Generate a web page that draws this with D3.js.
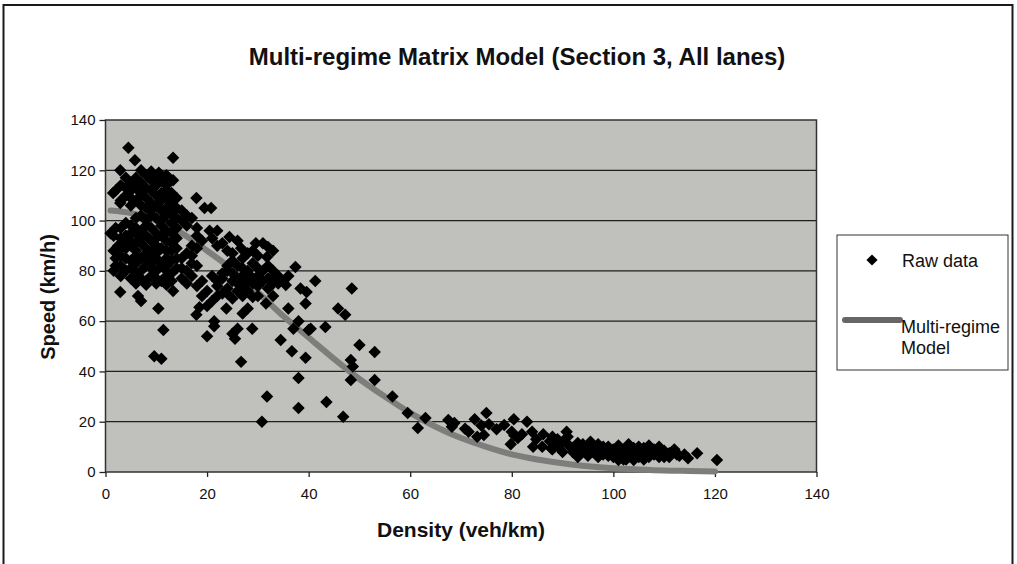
<!DOCTYPE html>
<html><head><meta charset="utf-8">
<script src="https://cdn.jsdelivr.net/npm/d3@7"></script>
<style>
body{margin:0;background:#fff;}
svg{display:block;font-family:Arial,"Liberation Sans",sans-serif;}
</style>
</head><body>
<svg id="chart" width="1017" height="564"></svg>
<script>
const chartTitle = "Multi-regime Matrix Model (Section 3, All lanes)";
const xTitle = "Density (veh/km)";
const yTitle = "Speed (km/h)";
const xTicks = [0,20,40,60,80,100,120,140];
const yTicks = [0,20,40,60,80,100,120,140];
const legendRaw = "Raw data";
const legendModel = ["Multi-regime", "Model"];

const modelDensity = [1,5,10,15,20,25,30,35,40,45,50,55,60,65,70,75,80,85,90,95,100,105,110,115,120];
const modelSpeed   = [104,103,100,95,88,80.5,71.5,62,53.5,45,37,30,23.5,18,13.5,10,7,5,3.5,2.3,1.5,1,0.6,0.4,0.2];

const rawPoints = [
 [4.5,129],[13.3,125],[5.8,124],[2.9,120],
 [4,117],[5,115],[6,117],[7,115],[8,118],[9,116],[10,117],[11,116],[12,114],[13.3,116],[7,120],[9,119.5],[10.5,119],[12,118],
 [2,112],[3,114],[4,113],[5,112],[6,113],[7,111],[8,113],[9,112],[10,114],[11,111],[12,112],[13,111],
 [1.5,111],[3,108],[4,110],[5,109],[6,108],[7,110],[8,109],[9,107],[10,110],[11,108],[12,109],[13,107],[14,109],[17.9,109],[14,105],
 [2.9,107],[5,106],[7,106],[8,105],[9,104],[10,106],[11,104],[12,105],[13,103],[15,104],[16,102],[19.5,105],[20.8,105],
 [6,101],[7,102],[8,100],[9,102],[10,101],[11,100],[12,102],[13,99],[14,101],[15,100],[16,98],[17,101],[18,97],[4,99],
 [1,95],[2,97],[3,97],[5,98],[6,97],[7,96],[8,98],[9,97],[10,95],[11,98],[12,96],[13,95],[14,97],[18,94],[20.5,96],[22,96],[21,93],[5,95],
 [1.6,94],[3,93],[4,94],[5,92],[6,95],[7,93],[8,94],[9,92],[10,93],[11,94],[12,92],[13,91],[17,90],[19,92],[24.4,93.5],[23,91],[26,92],[29.6,91],[14,93],[4,91],[6,91],
 [1.6,88],[2.5,90],[4,89],[5,90],[6,88],[7,91],[8,89],[9,88],[10,90],[11,89],[12,88],[14,89],[16,87],[18,89],[22,90],[24,88],[26.7,89],[28,87],[32,89.5],[31.8,85.5],[3,89],[13,88],[8,87],[10,87],
 [2,85],[3,86],[5,84],[6,86],[7,85],[8,84],[9,86],[10,85],[11,83],[12,85],[13,84],[15,85],[17,83],[25,84],[27,85],[29,83],[30,86],[4,85],[14,85],[17,86],
 [1.6,80],[3,82],[4,80],[5,81],[6,83],[7,80],[8,82],[9,81],[10,80],[11,82],[12,80],[14,81],[16,80],[18,82],[24,80],[26,82],[28,80],[30,81],[33,80],[37.4,81.5],[36,78],[2,82],[12,82],[9,83],[15,81],
 [3,78],[5,77],[6,79],[7,77],[8,76],[9,78],[10,77],[11,76],[12,78],[13,76],[15,77],[17,78],[19,76],[21,78],[23,77],[25,76],[27,78],[29,77],[31,76],[33,78],[35,76],[41.3,76],[13,79],
 [6,75],[8,74.5],[10,75],[12,74.5],[16,75],[18,74],[20,72],[22,74],[24,73],[26,75],[28,72],[30,74],[32,73],[34,75],[35.5,74.4],[38.4,73],[39.6,71.6],[48.5,73],[13.3,72],
 [2.9,71.6],[6.4,70],[7,68],[19,70],[21,68],[23,71],[25,69],[27,70],[29,69.6],[31.6,67],[33,70],[39.4,67],[20,66],
 [22,76],[23,79],[24,82],[25,79],[26,77],[27,81],[28,79],[29,75],[30,78],[31,80],[32,77],[33,75],[34,78],[24,71],[26,72],[28,76],[30,70],[32,82],[29,88],[27,74],[25,87],[31,91],[33,88],[22,70],
 [10.4,65],[11.4,56.5],[9.6,46],[11,45],[17.9,62.5],[20,54],[21.4,60],[21.4,58],[25,55],[25.5,53],[26,57],[26.7,43.8],[18.5,65.5],[23.8,65],[27,63],[28,65],[28.9,57],
 [36,65],[34.5,52.5],[36.7,48],[39.4,45.4],[38,60],[37,57],[40,56.5],[43.3,57.7],[40.4,57],[45.8,65],[47.2,62.5],[48.3,44.5],[48.7,42],[48.3,36.6],[50,50.5],[53,47.7],[53,36.6],
 [31.8,30],[30.8,20],[38,37.4],[38,25.5],[43.5,27.8],[46.8,22],
 [56.5,30],[59.5,23.5],[61.5,17.5],[63,21.5],[67.5,20.7],[68.2,18],[68.7,19.5],[70.8,17.2],[71.5,16],[72.7,21],[73.2,14],[74.5,14.7],[75,23.5],[75.5,19],[74,18.5],
 [77,17],[78.5,18.7],[79.8,11],[80.5,14.5],[80.4,21],[80,16],[81.2,13.5],[83,20],[82,15],[84.2,10],[84.8,13],[86.2,15],[87.5,12.2],[87.8,9.3],[89,13],[89.7,11],[90.8,16],
 [84,16],[86,10],[88,14],[91,14],
 [90,8],[91.5,10],[92.5,8],[93,11.5],[94,9],[95.5,12],[96,8.5],[97,7.5],[98,10],[99.4,8],[100,6],[101,7.5],[102,5],[103,8],[104,9.5],[105,6.5],[106,8],[107,7],[108,9],
 [109,6],[110,8],[111,7.5],[112.5,7],[114.7,5.5],[116.5,7.5],[120.4,4.8],
 [89,10.5],[91,11],[93,10],[95,10.5],[97,11],[99,10],[101,10.5],[103,11],[105,10],[107,10.5],[109,10],
 [92,8],[94,8.5],[96,8],[98,8.5],[100,8],[102,8.5],[104,8],[106,8.5],[108,8],[110,8.5],[112,8],
 [93,6],[95,6.5],[97,6],[99,6.5],[101,6],[103,6],[105,6],[107,6],[109,6.5],[111,6],[113,6.5],
 [101,4.8],[102.5,5],[104,4.8],[106,5],
 [88,9],[90,12],[92,9.5],[94,11],[96,9.5],[98,7],[100,9],[102,6.5],[104,6.5],[106,9.5],[108,7],[110,6],[112,9],[114,7]
];

const svg = d3.select("#chart");
const plot = {left:105.5, right:816.5, top:120, bottom:472};

const x = d3.scaleLinear().domain([0,140]).range([plot.left, plot.right]);
const y = d3.scaleLinear().domain([0,140]).range([plot.bottom, plot.top]);

// outer frame
svg.append("rect").attr("x",3.5).attr("y",5).attr("width",1009).attr("height",580)
  .attr("fill","#fff").attr("stroke","#1a1a1a").attr("stroke-width",2);

// title
svg.append("text").attr("x",517).attr("y",65).attr("text-anchor","middle")
  .attr("font-size",24).attr("font-weight","bold").attr("fill","#111").text(chartTitle);

// plot background
svg.append("rect").attr("x",plot.left).attr("y",plot.top)
  .attr("width",plot.right-plot.left).attr("height",plot.bottom-plot.top)
  .attr("fill","#c0c1bd");

// gridlines
svg.append("g").selectAll("line").data(yTicks.filter(t=>t>0 && t<140)).join("line")
  .attr("x1",plot.left).attr("x2",plot.right)
  .attr("y1",d=>y(d)).attr("y2",d=>y(d))
  .attr("stroke","#1f1f1f").attr("stroke-width",1.3);

// plot border
svg.append("rect").attr("x",plot.left).attr("y",plot.top)
  .attr("width",plot.right-plot.left).attr("height",plot.bottom-plot.top)
  .attr("fill","none").attr("stroke","#333").attr("stroke-width",1.5);

// axes
const yAxis = svg.append("g").attr("transform",`translate(${plot.left},0)`)
  .call(d3.axisLeft(y).tickValues(yTicks).tickSize(6).tickPadding(4));
const xAxis = svg.append("g").attr("transform",`translate(0,${plot.bottom})`)
  .call(d3.axisBottom(x).tickValues(xTicks).tickSize(5).tickPadding(11));
[yAxis,xAxis].forEach(a=>{
  a.select(".domain").remove();
  a.selectAll("line").attr("stroke","#222").attr("stroke-width",1.3);
  a.selectAll("text").attr("font-size",15).attr("fill","#111")
    .attr("font-family","Arial, 'Liberation Sans', sans-serif");
});

// axis titles
svg.append("text").attr("x",461).attr("y",537).attr("text-anchor","middle")
  .attr("font-size",21).attr("font-weight","bold").attr("fill","#111").text(xTitle);
svg.append("text").attr("transform","translate(55,297) rotate(-90)").attr("text-anchor","middle")
  .attr("font-size",20).attr("font-weight","bold").attr("fill","#111").text(yTitle);

// model line
const modelData = modelDensity.map((d,i)=>[d, modelSpeed[i]]);
svg.append("path").datum(modelData)
  .attr("d", d3.line().x(d=>x(d[0])).y(d=>y(d[1])).curve(d3.curveMonotoneX))
  .attr("fill","none").attr("stroke","#7d7d7b").attr("stroke-width",6)
  .attr("stroke-linecap","round");

// raw points
const diamond = d3.symbol().type(d3.symbolSquare).size(78);
svg.append("g").selectAll("path").data(rawPoints).join("path")
  .attr("d", diamond)
  .attr("transform", d=>`translate(${x(d[0])},${y(d[1])}) rotate(45)`)
  .attr("fill","#000");

// legend
const lg = svg.append("g");
lg.append("rect").attr("x",837).attr("y",235).attr("width",171).attr("height",135)
  .attr("fill","#fff").attr("stroke","#333").attr("stroke-width",1);
lg.append("path").attr("d",d3.symbol().type(d3.symbolSquare).size(62)).attr("transform","translate(872,260) rotate(45)").attr("fill","#000");
lg.append("text").attr("x",902).attr("y",267).attr("font-size",18).attr("fill","#111").text(legendRaw);
lg.append("line").attr("x1",845).attr("x2",900).attr("y1",320).attr("y2",320)
  .attr("stroke","#666").attr("stroke-width",6).attr("stroke-linecap","round");
lg.selectAll("text.m").data(legendModel).join("text").attr("class","m")
  .attr("x",901).attr("y",(d,i)=>333+i*21).attr("font-size",18).attr("fill","#111").text(d=>d);
</script>
</body></html>
